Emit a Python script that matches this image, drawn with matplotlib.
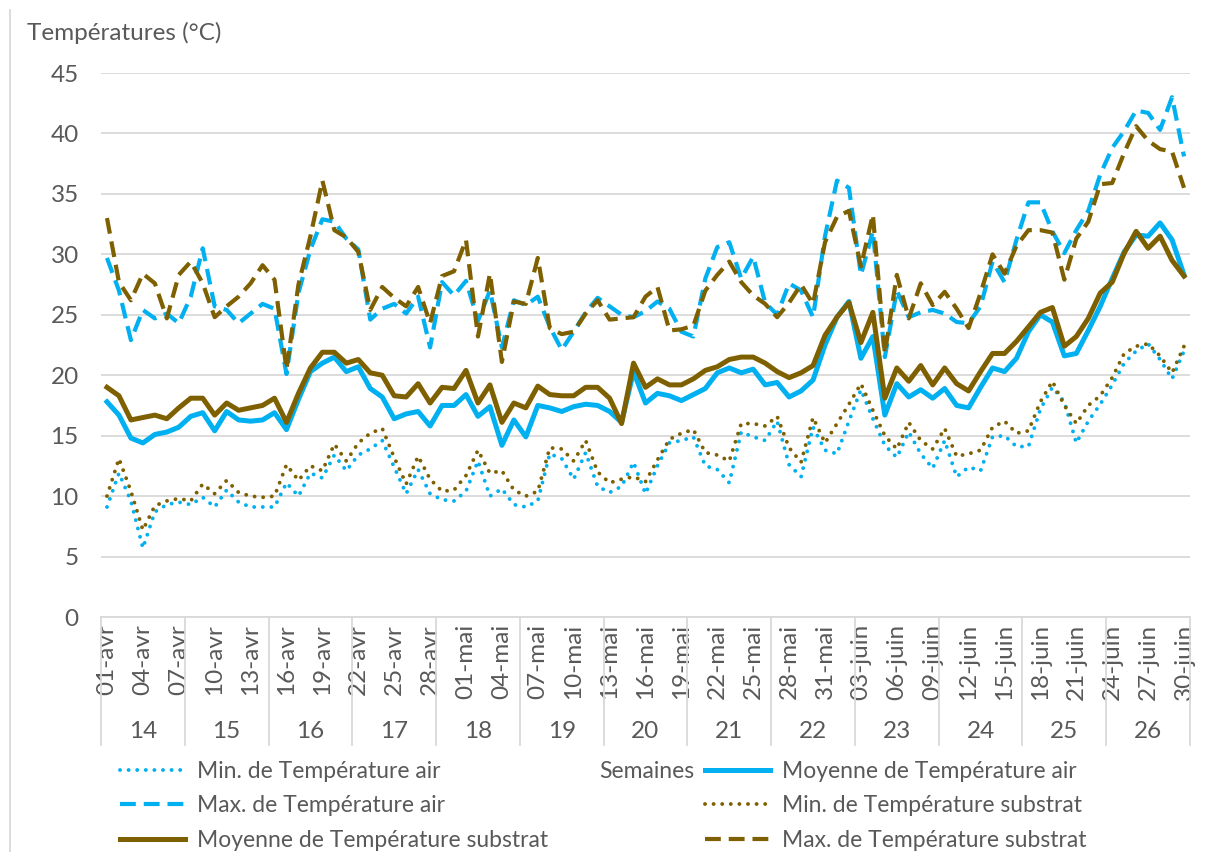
import numpy as np
import matplotlib
matplotlib.use("Agg")
import matplotlib.pyplot as plt
from matplotlib.lines import Line2D

plt.rcParams['font.family'] = ['Lato', 'DejaVu Sans']

# --- data (one value per day, 01-avr .. 30-juin) ---
date_labels = ['01-avr', '04-avr', '07-avr', '10-avr', '13-avr', '16-avr', '19-avr',
               '22-avr', '25-avr', '28-avr', '01-mai', '04-mai', '07-mai', '10-mai',
               '13-mai', '16-mai', '19-mai', '22-mai', '25-mai', '28-mai', '31-mai',
               '03-juin', '06-juin', '09-juin', '12-juin', '15-juin', '18-juin',
               '21-juin', '24-juin', '27-juin', '30-juin']
weeks = ['14', '15', '16', '17', '18', '19', '20', '21', '22', '23', '24', '25', '26']

min_air = [
    9.1, 11.9, 9.6, 5.7, 8.7, 9.3, 9.5, 9.3, 9.9, 9.1,
    10.5, 9.5, 9.1, 9.1, 9.1, 11.1, 10.0, 11.9, 11.5, 13.4,
    12.1, 13.4, 13.9, 14.6, 12.4, 10.2, 12.2, 10.2, 9.7, 9.6,
    10.4, 12.9, 10.0, 10.6, 9.3, 9.1, 9.6, 13.5, 13.1, 11.4,
    13.6, 10.8, 10.3, 10.8, 12.8, 10.2, 12.5, 14.4, 14.6, 14.9,
    12.5, 12.2, 11.1, 15.3, 14.9, 14.6, 16.2, 12.6, 11.6, 15.7,
    13.8, 13.5, 16.2, 18.8, 16.4, 14.2, 13.2, 15.3, 13.5, 12.3,
    14.6, 11.6, 12.4, 12.1, 14.9, 15.0, 14.1, 14.1, 17.2, 19.0,
    17.8, 14.4, 16.2, 17.6, 19.2, 21.0, 22.0, 22.6, 21.3, 19.7,
    22.0]
moy_air = [
    17.8, 16.7, 14.8, 14.4, 15.1, 15.3, 15.7, 16.6, 16.9, 15.4,
    17.0, 16.3, 16.2, 16.3, 16.9, 15.5, 18.0, 20.3, 21.0, 21.5,
    20.3, 20.7, 18.9, 18.2, 16.4, 16.8, 17.0, 15.8, 17.5, 17.5,
    18.4, 16.6, 17.4, 14.2, 16.3, 14.9, 17.5, 17.3, 17.0, 17.4,
    17.6, 17.5, 17.0, 16.1, 20.3, 17.7, 18.5, 18.3, 17.9, 18.4,
    18.9, 20.2, 20.6, 20.2, 20.5, 19.2, 19.4, 18.2, 18.7, 19.6,
    22.5, 24.8, 26.1, 21.4, 23.2, 16.7, 19.3, 18.2, 18.8, 18.1,
    18.9, 17.5, 17.3, 19.0, 20.6, 20.3, 21.4, 23.6, 25.0, 24.4,
    21.6, 21.8, 23.7, 25.7, 28.0, 30.2, 31.6, 31.5, 32.6, 31.2,
    28.3]
max_air = [
    29.7, 27.0, 22.9, 25.4, 24.7, 25.1, 24.3, 26.5, 30.5, 25.7,
    25.4, 24.3, 25.1, 25.9, 25.5, 20.1, 26.8, 30.4, 32.9, 32.7,
    31.3, 30.4, 24.6, 25.5, 25.9, 25.1, 26.5, 22.3, 27.7, 26.6,
    27.8, 24.5, 27.0, 22.3, 26.2, 25.8, 26.5, 24.0, 22.1, 23.6,
    25.2, 26.4, 25.7, 25.0, 24.8, 25.3, 26.1, 25.5, 23.6, 23.2,
    28.0, 30.6, 31.0, 28.0, 29.8, 26.0, 25.0, 27.6, 27.0, 24.8,
    31.5, 36.1, 35.5, 28.3, 31.9, 21.5, 27.0, 24.8, 25.2, 25.4,
    25.1, 24.4, 24.3, 25.7, 29.4, 27.7, 31.2, 34.3, 34.3, 31.9,
    30.1, 32.0, 33.6, 36.6, 38.8, 40.2, 41.9, 41.7, 40.3, 43.0,
    38.1]
min_sub = [
    10.0, 13.1, 10.4, 7.2, 9.2, 9.6, 9.8, 9.6, 11.0, 10.2,
    11.3, 10.3, 10.0, 9.9, 10.0, 12.6, 11.3, 12.5, 12.1, 14.3,
    12.9, 14.4, 15.2, 15.6, 13.2, 11.0, 13.3, 11.4, 10.4, 10.5,
    11.7, 13.8, 11.9, 12.1, 10.5, 10.0, 10.4, 14.0, 13.9, 12.9,
    14.6, 12.0, 11.1, 11.4, 11.6, 11.2, 13.0, 14.7, 15.2, 15.5,
    13.6, 13.4, 12.9, 16.0, 16.0, 15.8, 16.6, 14.0, 12.8, 16.5,
    14.4, 16.0, 17.6, 19.3, 17.1, 15.0, 13.9, 16.1, 14.6, 13.9,
    15.6, 13.3, 13.5, 13.8, 15.7, 16.2, 15.2, 15.4, 17.8, 19.5,
    17.5, 16.0, 17.5, 18.3, 19.8, 21.8, 22.4, 22.6, 21.6, 20.2,
    22.4]
moy_sub = [
    19.0, 18.3, 16.3, 16.5, 16.7, 16.4, 17.3, 18.1, 18.1, 16.7,
    17.7, 17.1, 17.3, 17.5, 18.1, 16.1, 18.5, 20.6, 21.9, 21.9,
    21.0, 21.3, 20.2, 20.0, 18.3, 18.2, 19.3, 17.7, 19.0, 18.9,
    20.4, 17.7, 19.2, 16.1, 17.7, 17.3, 19.1, 18.4, 18.3, 18.3,
    19.0, 19.0, 18.1, 16.0, 21.0, 19.0, 19.7, 19.2, 19.2, 19.7,
    20.4, 20.7, 21.3, 21.5, 21.5, 21.0, 20.3, 19.8, 20.2, 20.8,
    23.3, 24.8, 26.0, 22.7, 25.2, 18.1, 20.6, 19.5, 20.8, 19.2,
    20.6, 19.3, 18.7, 20.3, 21.8, 21.8, 22.8, 24.0, 25.2, 25.6,
    22.4, 23.2, 24.7, 26.8, 27.7, 30.1, 31.9, 30.5, 31.5, 29.5,
    28.2]
max_sub = [
    33.0, 27.7, 26.2, 28.4, 27.6, 24.7, 28.3, 29.4, 27.6, 24.8,
    25.7, 26.5, 27.6, 29.1, 27.9, 20.5, 27.5, 31.5, 36.1, 32.0,
    31.4, 30.2, 25.4, 27.3, 26.4, 25.7, 27.3, 24.3, 28.2, 28.6,
    31.2, 23.2, 28.4, 21.1, 26.1, 25.9, 29.7, 23.9, 23.4, 23.6,
    25.1, 26.2, 24.6, 24.7, 24.8, 26.5, 27.3, 23.7, 23.8, 24.1,
    27.0, 28.3, 29.4, 27.7, 26.6, 25.9, 24.8, 26.0, 27.5, 25.9,
    31.0, 33.1, 33.6, 29.0, 33.3, 21.8, 28.3, 24.7, 27.6, 25.8,
    26.9, 25.5, 23.9, 26.8, 30.0, 28.4, 30.7, 32.0, 32.0, 31.8,
    27.9, 31.3, 32.7, 35.8, 35.9, 38.4, 40.6, 39.4, 38.7, 38.5,
    35.5]

BLUE = '#00B0F0'
BROWN = '#7F6000'
TXT = '#595959'
GRID = '#D9D9D9'
FS = 17.5
LEG_FS = 16.5

days = np.arange(len(moy_air))

fig = plt.figure(figsize=(12.06, 8.52), dpi=100)
ax = fig.add_axes([101 / 1206, 1 - 617 / 852, 1089 / 1206, 544 / 852])

dot = dict(linestyle=(0, (0.01, 2.2)), dash_capstyle='round', lw=2.8)
dash = dict(linestyle=(0, (3.8, 1.9)), lw=3.0)

h_min_air, = ax.plot(days, min_air, color=BLUE, **dot)
h_moy_air, = ax.plot(days, moy_air, color=BLUE, lw=3.6)
h_max_air, = ax.plot(days, max_air, color=BLUE, **dash)
h_min_sub, = ax.plot(days, min_sub, color=BROWN, **dot)
h_moy_sub, = ax.plot(days, moy_sub, color=BROWN, lw=3.6)
h_max_sub, = ax.plot(days, max_sub, color=BROWN, **dash)

ax.set_xlim(-0.5, len(days) - 0.5)
ax.set_ylim(0, 45)
ax.set_yticks(np.arange(0, 46, 5))
ax.yaxis.grid(True, color=GRID, lw=1.3)
ax.set_axisbelow(True)
for s in ['left', 'right', 'top']:
    ax.spines[s].set_visible(False)
ax.spines['bottom'].set_color(GRID)
ax.spines['bottom'].set_linewidth(1.3)

ax.set_xticks(days[::3])
ax.set_xticklabels(date_labels, rotation=90, fontsize=FS, color=TXT)
ax.tick_params(axis='x', length=0, pad=5)
ax.tick_params(axis='y', length=0, pad=16, labelsize=FS, labelcolor=TXT)

# week groups under the dates
trans = ax.get_xaxis_transform()
for k in range(len(weeks) + 1):
    ax.plot([k * 7 - 0.5] * 2, [0, -0.235], color=GRID, lw=1.3,
            transform=trans, clip_on=False)
for k, w in enumerate(weeks):
    ax.text(k * 7 + 3, -0.211, w, transform=trans, ha='center', va='center',
            fontsize=FS, color=TXT)

fig.text(27 / 1206, 1 - 33 / 852, 'Températures (°C)', fontsize=FS,
         color=TXT, va='center')
fig.text(647 / 1206, 1 - 772 / 852, 'Semaines', fontsize=LEG_FS, color=TXT,
         ha='center', va='center')

# left border of the chart area
fig.add_artist(Line2D([10 / 1206, 10 / 1206], [0, 1 - 10 / 852], color=GRID, lw=1.3))

leg_kw = dict(loc='upper left', frameon=False, fontsize=LEG_FS, handlelength=2.85,
              handletextpad=0.5, labelspacing=0.58, borderpad=0, borderaxespad=0,
              labelcolor=TXT)
leg1 = fig.legend([h_min_air, h_max_air, h_moy_sub],
                  ['Min. de Température air', 'Max. de Température air',
                   'Moyenne de Température substrat'],
                  bbox_to_anchor=(120 / 1206, 1 - 761 / 852), **leg_kw)
leg2 = fig.legend([h_moy_air, h_min_sub, h_max_sub],
                  ['Moyenne de Température air', 'Min. de Température substrat',
                   'Max. de Température substrat'],
                  bbox_to_anchor=(705 / 1206, 1 - 761 / 852), **leg_kw)

fig.savefig('out.png', dpi=100)
